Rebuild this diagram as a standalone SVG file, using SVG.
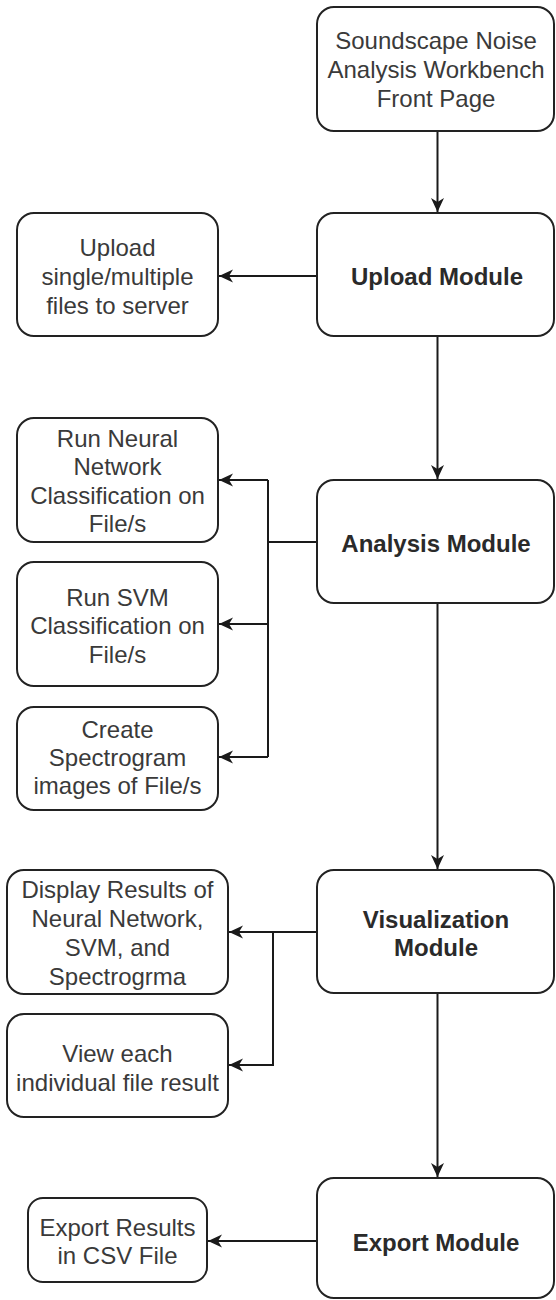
<svg xmlns="http://www.w3.org/2000/svg" width="556" height="1300" viewBox="0 0 556 1300">
  <style>
    .box { fill: #ffffff; stroke: #222222; stroke-width: 2; }
    .lbl { font-family: "Liberation Sans", Arial, sans-serif; font-size: 24px; fill: #3a3a3a; text-anchor: middle; }
    .bold { font-weight: bold; fill: #2a2a2a; }
    .edge { fill: none; stroke: #1a1a1a; stroke-width: 2; }
  </style>
  <defs>
    <marker id="arrow" markerUnits="userSpaceOnUse" markerWidth="16" markerHeight="16" viewBox="-15 -8 16 16" refX="0" refY="0" orient="auto">
      <path d="M0,0 L-14,-6.5 L-10,0 L-14,6.5 Z" fill="#1a1a1a"/>
    </marker>
  </defs>
  <rect width="556" height="1300" fill="#ffffff"/>

  <!-- connectors -->
  <g id="connectors" class="edge">
    <path d="M437.5,131 V212" marker-end="url(#arrow)"/>
    <path d="M317,276 H219" marker-end="url(#arrow)"/>
    <path d="M437.5,336 V479" marker-end="url(#arrow)"/>
    <path d="M317,542 H268"/>
    <path d="M268,480 V757"/>
    <path d="M268,480 H219" marker-end="url(#arrow)"/>
    <path d="M268,624 H219" marker-end="url(#arrow)"/>
    <path d="M268,757 H219" marker-end="url(#arrow)"/>
    <path d="M437.5,603 V869" marker-end="url(#arrow)"/>
    <path d="M317,932 H229" marker-end="url(#arrow)"/>
    <path d="M273,932 V1065 H229" marker-end="url(#arrow)"/>
    <path d="M437.5,993 V1177" marker-end="url(#arrow)"/>
    <path d="M317,1241 H208" marker-end="url(#arrow)"/>
  </g>

  <!-- main column -->
  <g id="front-page">
    <rect class="box" x="317" y="7" width="237" height="124" rx="17"/>
    <text class="lbl" x="436" y="48.5">Soundscape Noise</text>
    <text class="lbl" x="436" y="77.5">Analysis Workbench</text>
    <text class="lbl" x="436" y="106.5">Front Page</text>
  </g>
  <g id="upload-module">
    <rect class="box" x="317" y="213" width="237" height="123" rx="17"/>
    <text class="lbl bold" x="437" y="284.5">Upload Module</text>
  </g>
  <g id="analysis-module">
    <rect class="box" x="317" y="480" width="237" height="123" rx="17"/>
    <text class="lbl bold" x="436" y="551.5">Analysis Module</text>
  </g>
  <g id="visualization-module">
    <rect class="box" x="317" y="870" width="237" height="123" rx="17"/>
    <text class="lbl bold" x="436" y="927.5">Visualization</text>
    <text class="lbl bold" x="436" y="955.5">Module</text>
  </g>
  <g id="export-module">
    <rect class="box" x="317" y="1178" width="237" height="120" rx="17"/>
    <text class="lbl bold" x="436" y="1250.5">Export Module</text>
  </g>

  <!-- side tasks -->
  <g id="upload-files">
    <rect class="box" x="17" y="213" width="201" height="123" rx="17"/>
    <text class="lbl" x="117.5" y="255.5">Upload</text>
    <text class="lbl" x="117.5" y="284.5">single/multiple</text>
    <text class="lbl" x="117.5" y="313.5">files to server</text>
  </g>
  <g id="neural-network">
    <rect class="box" x="17" y="418" width="201" height="124" rx="17"/>
    <text class="lbl" x="117.5" y="446.5">Run Neural</text>
    <text class="lbl" x="117.5" y="475">Network</text>
    <text class="lbl" x="117.5" y="503.5">Classification on</text>
    <text class="lbl" x="117.5" y="532">File/s</text>
  </g>
  <g id="svm">
    <rect class="box" x="17" y="562" width="201" height="124" rx="17"/>
    <text class="lbl" x="117.5" y="605.5">Run SVM</text>
    <text class="lbl" x="117.5" y="634">Classification on</text>
    <text class="lbl" x="117.5" y="662.5">File/s</text>
  </g>
  <g id="spectrogram">
    <rect class="box" x="17" y="707" width="201" height="103" rx="17"/>
    <text class="lbl" x="117.5" y="738">Create</text>
    <text class="lbl" x="117.5" y="766">Spectrogram</text>
    <text class="lbl" x="117.5" y="794">images of File/s</text>
  </g>
  <g id="display-results">
    <rect class="box" x="7" y="870" width="221" height="124" rx="17"/>
    <text class="lbl" x="117.5" y="897.5">Display Results of</text>
    <text class="lbl" x="117.5" y="926.5">Neural Network,</text>
    <text class="lbl" x="117.5" y="955.5">SVM, and</text>
    <text class="lbl" x="117.5" y="984.5">Spectrogrma</text>
  </g>
  <g id="view-each">
    <rect class="box" x="7" y="1014" width="221" height="103" rx="17"/>
    <text class="lbl" x="117.5" y="1061.5">View each</text>
    <text class="lbl" x="117.5" y="1090.5">individual file result</text>
  </g>
  <g id="export-csv">
    <rect class="box" x="28" y="1198" width="179" height="84" rx="15"/>
    <text class="lbl" x="117.5" y="1235.5">Export Results</text>
    <text class="lbl" x="117.5" y="1263.5">in CSV File</text>
  </g>
</svg>
